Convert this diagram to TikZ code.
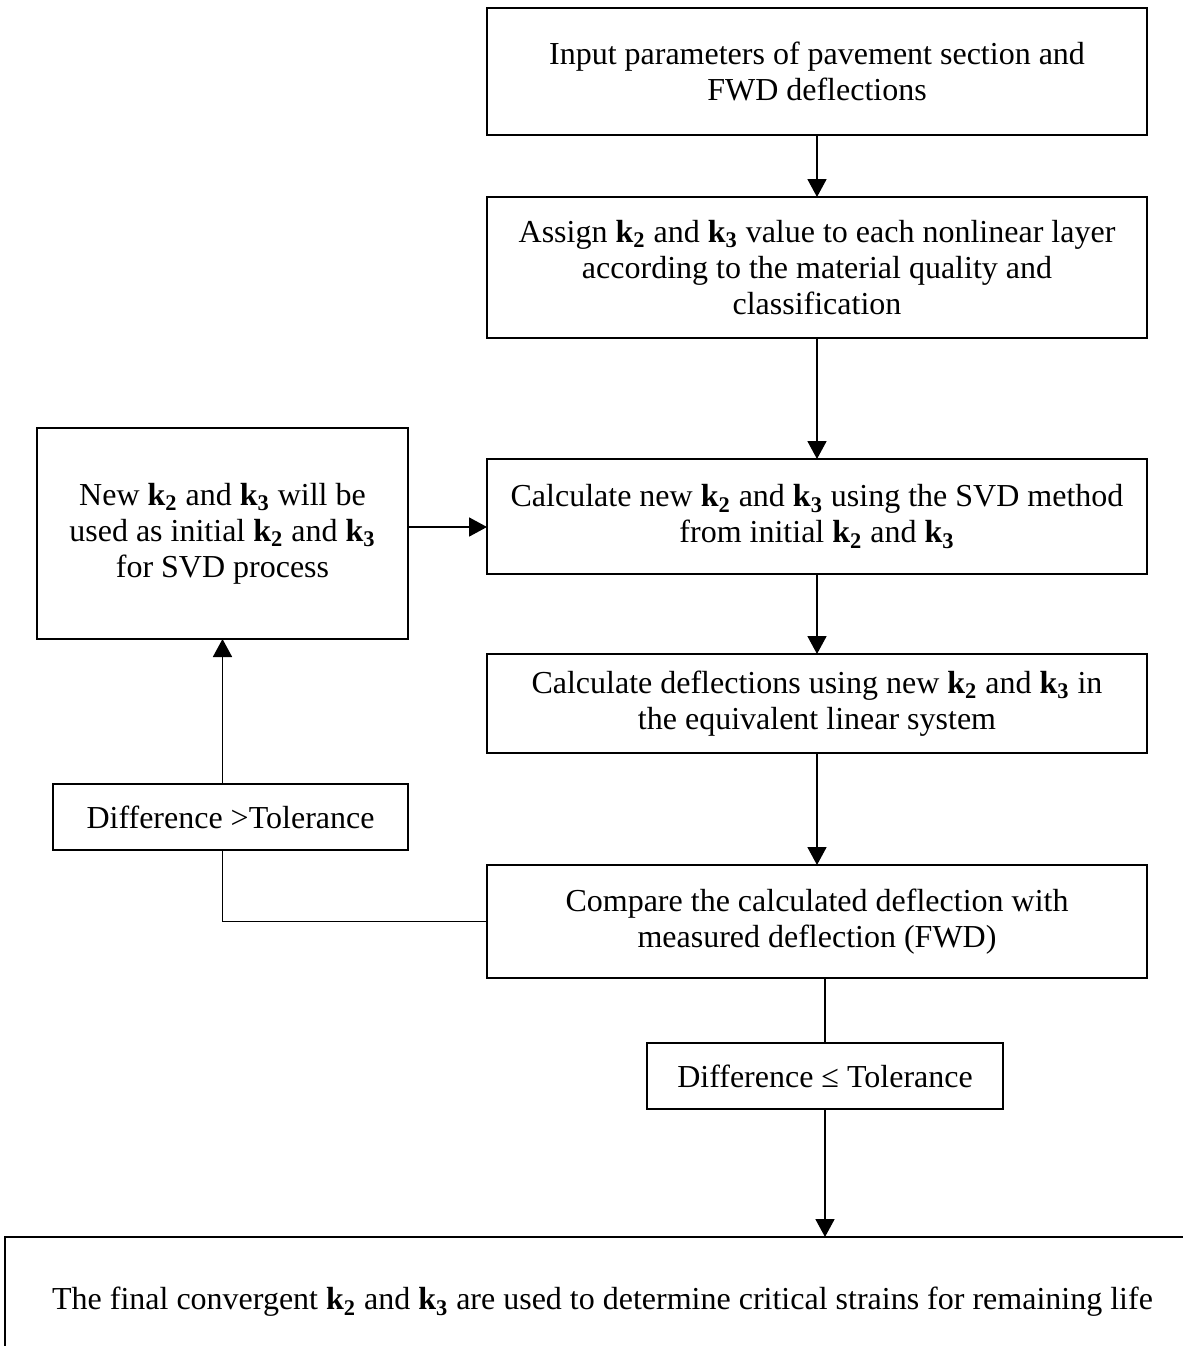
\documentclass[tikz,border=0pt]{standalone}
\usepackage{fontspec}
\setmainfont{Liberation Serif}
\usetikzlibrary{arrows.meta,positioning}
\newcommand{\kv}[1]{\textbf{k\textsubscript{#1}}}
\tikzset{
  box/.style={draw=black, line width=1.2pt, fill=white, align=center,
    inner sep=2pt, outer sep=0pt, font=\fontsize{16pt}{18pt}\selectfont},
  stepbox/.style={box, minimum width=330pt},
  tolbox/.style={box, minimum width=178pt, minimum height=33pt},
  arrow/.style={-{Triangle[length=9pt, width=9.5pt]}, line width=0.9pt},
  link/.style={line width=0.9pt},
}

\begin{document}
\begin{tikzpicture}
\useasboundingbox (0,0) rectangle (591.5pt,-673pt);
\clip (0,0) rectangle (591.5pt,-673pt);

% ---- main column -----------------------------------------------------
\node[stepbox, minimum height=63.5pt, anchor=north] (input) at (408.5pt,-4pt)
  {Input parameters of pavement section and\\FWD deflections};
\node[stepbox, minimum height=70.5pt, below=31pt of input] (assign)
  {Assign \kv{2} and \kv{3} value to each nonlinear layer\\
   according to the material quality and\\classification};
\node[stepbox, minimum height=57.5pt, below=60.5pt of assign] (calc)
  {Calculate new \kv{2} and \kv{3} using the SVD method\\
   from initial \kv{2} and \kv{3}};
\node[stepbox, minimum height=49.5pt, below=40pt of calc] (defl)
  {Calculate deflections using new \kv{2} and \kv{3} in\\
   the equivalent linear system};
\node[stepbox, minimum height=56.5pt, below=56pt of defl] (compare)
  {Compare the calculated deflection with\\measured deflection (FWD)};
\node[tolbox, below=32.5pt of compare, xshift=4pt] (tolok)
  {Difference ≤ Tolerance};

% ---- feedback loop ---------------------------------------------------
\node[box, minimum width=185.5pt, minimum height=105.5pt,
  left=39.5pt of calc, yshift=-8.5pt] (update)
  {New \kv{2} and \kv{3} will be\\used as initial \kv{2} and \kv{3}\\for SVD process};
\node[tolbox, minimum width=177.5pt, below=72.5pt of update, xshift=4pt] (tolbad)
  {Difference >Tolerance};

% ---- result ----------------------------------------------------------
\node[box, minimum width=597.5pt, minimum height=65pt,
  below=64pt of tolok, xshift=-111.25pt] (final)
  {The final convergent \kv{2} and \kv{3} are used to determine critical strains for remaining life};

\draw[arrow] (input) -- (assign);
\draw[arrow] (assign) -- (calc);
\draw[arrow] (calc) -- (defl);
\draw[arrow] (defl) -- (compare);
\draw[arrow] ([yshift=3.25pt]update.east) -- ([yshift=3.25pt]update.east -| calc.west);
\draw[link] (compare.west) -| (update.south |- tolbad.south);
\draw[arrow] (update.south |- tolbad.north) -- (update.south);
\draw[link] (tolok.north |- compare.south) -- (tolok.north);
\draw[arrow] (tolok.south) -- (tolok.south |- final.north);

\end{tikzpicture}
\end{document}
